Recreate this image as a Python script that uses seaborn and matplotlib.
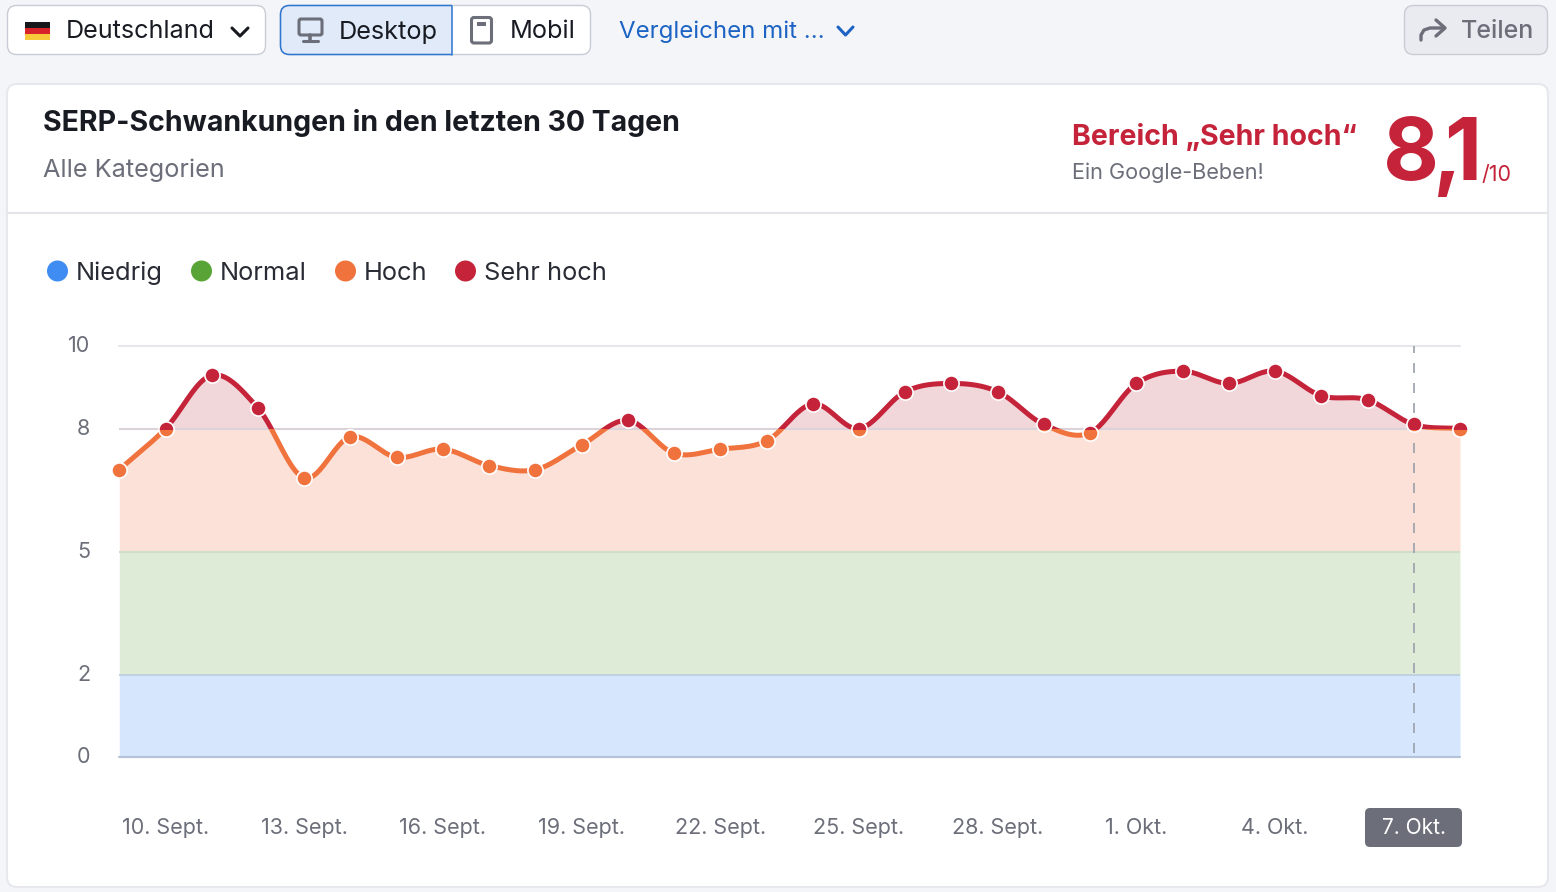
import numpy as np
import seaborn as sns
import matplotlib.pyplot as plt
from matplotlib.patches import FancyBboxPatch, Rectangle, Circle
from matplotlib.transforms import ScaledTranslation

# values, one per day from 9. Sept.
days = list(range(30))
scores = [7.0, 8.0, 9.3, 8.5, 6.8, 7.8, 7.3, 7.5, 7.1, 7.0,
          7.6, 8.2, 7.4, 7.5, 7.7, 8.6, 8.0, 8.9, 9.1, 8.9,
          8.1, 7.9, 9.1, 9.4, 9.1, 9.4, 8.8, 8.7, 8.1, 8.0]
x_tick_days = [1, 4, 7, 10, 13, 16, 19, 22, 25, 28]
x_tick_labels = ['10. Sept.', '13. Sept.', '16. Sept.', '19. Sept.', '22. Sept.',
                 '25. Sept.', '28. Sept.', '1. Okt.', '4. Okt.', '7. Okt.']
y_ticks = [0, 2, 5, 8, 10]
legend_names = ['Niedrig', 'Normal', 'Hoch', 'Sehr hoch']
legend_colors = ['#3F8CF3', '#59A437', '#F0723D', '#C4233A']

W, H = 1556, 892
RED = '#C4233A'
ORANGE = '#F0723D'
DARK = '#191B23'
GRAY = '#6C6E79'
BLUE = '#1D63C4'

sns.set_theme(style='white')
plt.rcParams['font.family'] = ['Inter', 'DejaVu Sans']


def smooth(x, y, n=24):
    # catmull-rom between the daily values, the line in the picture is rounded
    x = np.asarray(x, float)
    y = np.asarray(y, float)
    slope = np.gradient(y, x)
    xs, ys = [], []
    for i in range(len(x) - 1):
        t = np.linspace(0, 1, n, endpoint=False)
        h00 = 2 * t**3 - 3 * t**2 + 1
        h10 = t**3 - 2 * t**2 + t
        h01 = -2 * t**3 + 3 * t**2
        h11 = t**3 - t**2
        xs.append(x[i] + t)
        ys.append(h00 * y[i] + h10 * slope[i] + h01 * y[i + 1] + h11 * slope[i + 1])
    return np.append(np.concatenate(xs), x[-1]), np.append(np.concatenate(ys), y[-1])


def box(ax, x0, y0, x1, y1, r, fc, ec='none', lw=1.0, z=1):
    p = FancyBboxPatch((x0, y0), x1 - x0, y1 - y0, boxstyle=f'round,pad=0,rounding_size={r}',
                       fc=fc, ec=ec, lw=lw, zorder=z)
    ax.add_patch(p)
    return p


fig = plt.figure(figsize=(W / 100, H / 100), dpi=100, facecolor='#F3F5F9')

# page furniture in pixel coordinates
ui = fig.add_axes([0, 0, 1, 1])
ui.set_xlim(0, W)
ui.set_ylim(H, 0)
ui.axis('off')

box(ui, 7, 84, 1548, 887, 10, 'white', '#E6E8EE', 1.5)
ui.plot([7, 1548], [213, 213], color='#E3E5EB', lw=1.5)

# country picker
box(ui, 7.5, 5.5, 265.5, 54.5, 9, 'white', '#C9CCD4', 1)
ui.add_patch(Rectangle((25, 22), 25, 6, fc='#17181C', ec='none', zorder=2))
ui.add_patch(Rectangle((25, 28), 25, 6, fc='#D8232A', ec='none', zorder=2))
ui.add_patch(Rectangle((25, 34), 25, 6, fc='#F7C93B', ec='none', zorder=2))
ui.text(66, 32, 'Deutschland', fontsize=18.1, color=DARK, va='center')
ui.plot([232, 240, 248], [28, 36, 28], color=DARK, lw=2.2, solid_capstyle='round')

# desktop / mobile switch
box(ui, 280.5, 5.5, 590.5, 54.5, 9, 'white', '#C9CCD4', 1)
sel = box(ui, 280.5, 5.5, 480, 54.5, 9, '#E0EAF9', '#2E75CF', 1.1, z=2)
sel.set_clip_path(Rectangle((275, 0), 177.5, 60, transform=ui.transData))
ui.plot([452.5, 452.5], [5.5, 54.5], color='#2E75CF', lw=1.1, zorder=3)
box(ui, 299, 19, 322, 35, 2, 'none', GRAY, 2.2, z=4)
ui.plot([310.5, 310.5], [35, 40], color=GRAY, lw=2.6, zorder=4)
ui.plot([303, 318], [41, 41], color=GRAY, lw=2.2, zorder=4)
ui.text(339, 32, 'Desktop', fontsize=18.2, color=DARK, va='center', zorder=4)
box(ui, 471.5, 17.5, 491.5, 43, 2.5, 'none', GRAY, 2.2, z=4)
ui.add_patch(Rectangle((477, 22), 9, 4, fc=GRAY, ec='none', zorder=4))
ui.text(510, 32, 'Mobil', fontsize=18.2, color=DARK, va='center', zorder=4)

ui.text(619, 31.5, 'Vergleichen mit …', fontsize=17.3, color=BLUE, va='center')
ui.plot([838, 845.5, 853], [27, 35, 27], color=BLUE, lw=2.2, solid_capstyle='round')

# share button
box(ui, 1404.5, 5.5, 1547.5, 54.5, 9, '#E9EBF0', '#C9CCD4', 1)
ui.plot([1421, 1421, 1424, 1430, 1444], [40, 35, 30, 28, 28], color=GRAY, lw=2.4,
        solid_capstyle='round')
ui.plot([1436, 1445, 1436], [20, 28, 36], color=GRAY, lw=2.4, solid_capstyle='round')
ui.text(1461, 31.5, 'Teilen', fontsize=18, color=GRAY, va='center', fontweight='medium')

# card header
ui.text(43, 123, 'SERP-Schwankungen in den letzten 30 Tagen', fontsize=20.5, color=DARK,
        va='center', fontweight='bold')
ui.text(43, 170, 'Alle Kategorien', fontsize=18.2, color=GRAY, va='center')
ui.text(1072, 137, 'Bereich „Sehr hoch“', fontsize=20.5, color=RED, va='center', fontweight='bold')
ui.text(1072, 172.5, 'Ein Google-Beben!', fontsize=15.6, color=GRAY, va='center')
# the big number is set tighter than the font allows, so its glyphs are placed one by one
ui.text(1383, 180, '8', fontsize=62, color=RED, va='baseline', fontweight='bold')
ui.text(1433, 180, ',', fontsize=62, color=RED, va='baseline', fontweight='bold')
ui.text(1444, 180, '1', fontsize=62, color=RED, va='baseline', fontweight='bold')
ui.text(1482, 181, '/10', fontsize=15.5, color=RED, va='baseline')

# legend
for lx, name, col in zip([57.5, 201.5, 345.5, 465.5], legend_names, legend_colors):
    ui.add_patch(Circle((lx, 271), 10.5, fc=col, ec='none'))
    ui.text(lx + 18.5, 280, name, fontsize=18.3, color='#2A2C35', va='baseline')

# highlighted date chip behind the last tick label
box(ui, 1365, 808, 1462, 847, 5, GRAY, z=2)

# chart
x0, x1, y0, y1 = 119.3, 1460, 757, 346.5
ax = fig.add_axes([x0 / W, 1 - y0 / H, (x1 - x0) / W, (y0 - y1) / H])
ax.patch.set_alpha(0)
sns.despine(ax=ax, left=True, bottom=True, top=True, right=True)

xs, ys = smooth(days, scores)

ax.fill_between(xs, 0, 2, color='#D6E6FD', lw=0, zorder=1)
ax.fill_between(xs, 2, 5, color='#DEECD7', lw=0, zorder=1)
ax.fill_between(xs, 5, np.minimum(ys, 8), color='#FBE1D8', lw=0, zorder=1)
ax.fill_between(xs, 8, ys, where=ys >= 8, interpolate=True, color='#F1D6DA', lw=0, zorder=1)

ax.axhline(10, color='#E6E7EC', lw=1.5, zorder=2, clip_on=False)
ax.axhline(8, color='#DCD3DA', lw=1.5, zorder=2)
ax.axhline(5, color='#CFDFCB', lw=1.5, zorder=2)
ax.axhline(2, color='#BFD2DF', lw=1.5, zorder=2)
ax.axhline(0, color='#B5C3D8', lw=1.6, zorder=2, clip_on=False)
ax.plot([28, 28], [0.1, 10], color='#9AA0AC', lw=1.2, dashes=(6, 6), zorder=3, clip_on=False)

above = Rectangle((-2, 8), 34, 4, transform=ax.transData)
below = Rectangle((-2, -1), 34, 9, transform=ax.transData)
for col, clip in [(ORANGE, below), (RED, above)]:
    n_lines = len(ax.lines)
    sns.lineplot(x=xs, y=ys, color=col, lw=3.6, estimator=None, sort=False, ax=ax, zorder=4)
    ax.lines[n_lines].set_clip_path(clip)
for col, clip in [(ORANGE, below), (RED, above)]:
    n_coll = len(ax.collections)
    sns.scatterplot(x=days, y=scores, color=col, s=120, edgecolor='white', linewidth=1.2,
                    ax=ax, zorder=5)
    ax.collections[n_coll].set_clip_path(clip)

ax.set_xlim(0, 29)
ax.set_ylim(0, 10)
ax.set_xlabel('')
ax.set_ylabel('')
ax.set_yticks(y_ticks)
ax.set_xticks(x_tick_days)
ax.set_xticklabels(x_tick_labels)
ax.tick_params(axis='x', length=0, pad=44, labelsize=15.5, labelcolor=GRAY)
ax.tick_params(axis='y', length=0, pad=21, labelsize=15.5, labelcolor=GRAY)
ax.get_xticklabels()[-1].set_color('white')
ax.get_xticklabels()[-1].set_fontsize(15)
for lab in ax.get_yticklabels():
    lab.set_transform(lab.get_transform() + ScaledTranslation(0, 0.02, fig.dpi_scale_trans))
ax.grid(False)

fig.savefig('out.png', dpi=100, facecolor=fig.get_facecolor())
